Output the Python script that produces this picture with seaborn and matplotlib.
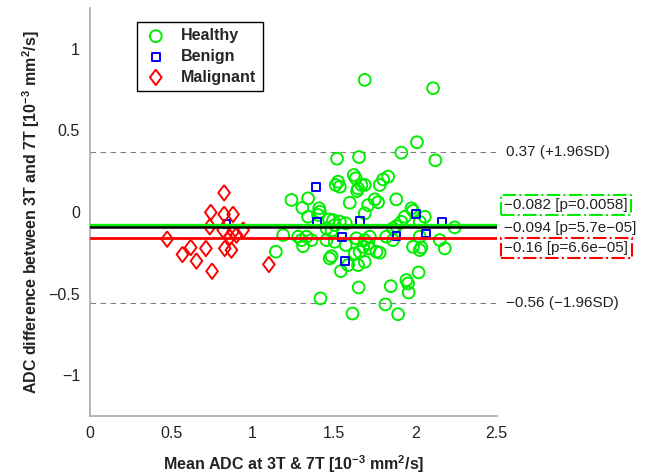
import numpy as np
import pandas as pd
import matplotlib
matplotlib.use("Agg")
import matplotlib.pyplot as plt
import seaborn as sns

# Healthy tissue (mean ADC, difference)
healthy_x = [1.689, 2.109, 2.01, 1.914, 2.123, 1.519, 1.654,
             1.622, 1.634, 1.525, 1.511, 1.536, 1.648, 1.669, 1.689, 1.833, 1.802, 1.781, 1.642,
             1.239, 1.341, 1.306, 1.409, 1.413, 1.402, 1.341, 1.597, 1.71, 1.751, 1.771, 1.883,
             1.689, 1.976, 1.986,
             1.47, 1.495, 1.536, 1.572, 1.505, 1.454, 1.485, 1.935, 1.914, 1.883, 1.863, 2.058,
             2.027, 2.242,
             1.188, 1.28, 1.30, 1.331, 1.362, 1.31, 1.454, 1.505, 1.572, 1.638, 1.689, 1.72,
             1.679, 1.628, 1.658, 1.485, 1.474, 1.143, 1.587, 1.648, 1.822, 1.986, 2.037,
             2.027, 2.15, 2.181, 1.71, 1.72, 1.761, 1.689, 2.02, 1.863, 1.781, 2.027,
             1.542, 1.652, 1.417, 1.614, 1.816, 1.894, 1.849, 1.945, 1.955, 1.959]
healthy_y = [0.81, 0.759, 0.428, 0.364, 0.317, 0.327, 0.337,
             0.227, 0.207, 0.186, 0.166, 0.155, 0.145, 0.166, 0.166, 0.217, 0.2, 0.166, 0.129,
             0.074, 0.084, 0.026, 0.023, 0.002, -0.018, -0.029, 0.057, 0.043, 0.078, 0.06, 0.078,
             -0.008, 0.023, 0.008,
             -0.045, -0.049, -0.059, -0.069, -0.08, -0.1, -0.115, -0.029, -0.06, -0.086, -0.1, -0.029,
             -0.06, -0.094,
             -0.141, -0.151, -0.172, -0.151, -0.172, -0.209, -0.172, -0.182, -0.202, -0.161, -0.172, -0.151,
             -0.213, -0.254, -0.243, -0.27, -0.284, -0.243, -0.325, -0.325, -0.151, -0.213, -0.217,
             -0.233, -0.172, -0.223, -0.192, -0.223, -0.243, -0.305, -0.37, -0.172, -0.249, -0.151,
             -0.362, -0.462, -0.529, -0.622, -0.566, -0.626, -0.454, -0.417, -0.438, -0.493]

benign_x = [0.84, 1.388, 1.398, 1.552, 1.568, 1.658, 1.884, 2.006, 2.068, 2.166]
benign_y = [-0.074, 0.155, -0.059, -0.151, -0.30, -0.053, -0.147, -0.014, -0.131, -0.06]

malignant_x = [0.825, 0.743, 0.825, 0.88, 0.737, 0.819, 0.88, 0.942, 0.86, 0.475,
               0.901, 0.62, 0.569, 0.713, 0.829, 0.87, 0.655, 0.751, 1.10]
malignant_y = [0.118, -0.002, -0.014, -0.014, -0.09, -0.11, -0.121, -0.11, -0.155, -0.166,
               -0.141, -0.217, -0.26, -0.223, -0.223, -0.233, -0.30, -0.362, -0.321]

# bias lines and limits of agreement
mean_healthy = -0.082
mean_all = -0.094
mean_malignant = -0.16
loa_upper = 0.37
loa_lower = -0.56

x_ticks = [0, 0.5, 1, 1.5, 2, 2.5]
x_tick_labels = ["0", "0.5", "1", "1.5", "2", "2.5"]
y_ticks = [-1, -0.5, 0, 0.5, 1]
y_tick_labels = ["\u22121", "\u22120.5", "0", "0.5", "1"]

df = pd.concat([
    pd.DataFrame({"x": healthy_x, "y": healthy_y, "group": "Healthy"}),
    pd.DataFrame({"x": benign_x, "y": benign_y, "group": "Benign"}),
    pd.DataFrame({"x": malignant_x, "y": malignant_y, "group": "Malignant"}),
])

sns.set_theme(style="white")
plt.rcParams["font.family"] = ["Liberation Sans", "DejaVu Sans"]
plt.rcParams["mathtext.fontset"] = "custom"
plt.rcParams["mathtext.rm"] = "Liberation Sans"
plt.rcParams["mathtext.bf"] = "Liberation Sans:bold"

GREEN = "#00ee00"
BLUE = "#0000ff"
RED = "#ff0000"

# wider diamond than matplotlib's "d"
diamond = [(0, 1), (0.75, 0), (0, -1), (-0.75, 0), (0, 1)]

fig = plt.figure(figsize=(6.51, 4.76), dpi=100)
ax = fig.add_axes([0.138, 0.126, 0.625, 0.857])

styles = {"Healthy": ("o", GREEN, 72), "Benign": ("s", BLUE, 32), "Malignant": (diamond, RED, 125)}
for name, (mk, col, size) in styles.items():
    sub = df[df["group"] == name]
    sns.scatterplot(x=sub["x"], y=sub["y"], ax=ax, marker=mk, s=size, color=col,
                    facecolor="none", edgecolor=col, linewidth=1.4, label=name, zorder=2)

# limits of agreement
for v in [loa_upper, loa_lower]:
    ax.axhline(v, color="#808080", lw=0.8, ls=(0, (5, 4)), zorder=1)

ax.axhline(mean_healthy, color=GREEN, lw=2.4, zorder=4)
ax.axhline(mean_all, color="black", lw=1.8, zorder=5)
ax.axhline(mean_malignant, color=RED, lw=2.0, zorder=4)

ax.set_xlim(0, 2.5)
ax.set_ylim(-1.25, 1.25)
ax.set_xticks(x_ticks)
ax.set_xticklabels(x_tick_labels)
ax.set_yticks(y_ticks)
ax.set_yticklabels(y_tick_labels)
ax.tick_params(direction="in", length=4, width=0.8, color="#333333", labelsize=11.5,
               labelcolor="#222222", pad=7)
sns.despine(ax=ax)
for s in ["left", "bottom"]:
    ax.spines[s].set_color("#aaaaaa")
    ax.spines[s].set_linewidth(1.2)

ax.set_xlabel(r"Mean ADC at 3T & 7T [10$^{\mathbf{-3}}$ mm$^{\mathbf{2}}$/s]",
              fontsize=11.5, fontweight="bold", color="#222222", labelpad=9)
ax.set_ylabel(r"ADC difference between 3T and 7T [10$^{\mathbf{-3}}$ mm$^{\mathbf{2}}$/s]",
              fontsize=11.5, fontweight="bold", color="#222222", labelpad=5)

# annotations to the right of the axes
tx = 2.56
fs = 11
ax.text(tx, loa_upper, "0.37 (+1.96SD)", fontsize=fs, va="center", ha="left",
        color="#222222", clip_on=False)
ax.text(tx, loa_lower, "\u22120.56 (\u22121.96SD)", fontsize=fs, va="center", ha="left",
        color="#222222", clip_on=False)
ax.text(2.547, 0.043, "\u22120.082 [p=0.0058]", fontsize=fs, va="center", ha="left",
        color="#222222", clip_on=False,
        bbox=dict(boxstyle="square,pad=0.22", fc="none", ec=GREEN, ls="-.", lw=1.5))
ax.text(2.547, -0.098, "\u22120.094 [p=5.7e\u221205]", fontsize=fs, va="center", ha="left",
        color="#222222", clip_on=False)
ax.text(2.547, -0.221, "\u22120.16 [p=6.6e\u221205]", fontsize=fs, va="center", ha="left",
        color="#222222", clip_on=False,
        bbox=dict(boxstyle="square,pad=0.22", fc="none", ec=RED, ls="-.", lw=1.5))

leg = ax.legend(loc="upper left", bbox_to_anchor=(0.115, 0.966), borderaxespad=0,
                frameon=True, fancybox=False, edgecolor="black", framealpha=1,
                prop={"weight": "bold", "size": 11.5},
                borderpad=0.4, labelspacing=0.35, handletextpad=0.8, handlelength=1.6)
leg.get_frame().set_linewidth(1.0)

fig.savefig("out.png", dpi=100)
